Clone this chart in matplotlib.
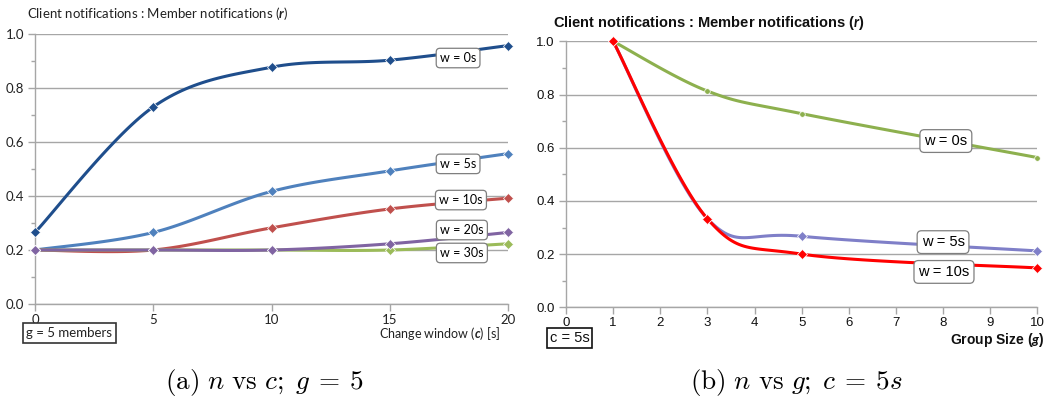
import numpy as np
import matplotlib
matplotlib.use("Agg")
import matplotlib.pyplot as plt
from matplotlib.ticker import MultipleLocator

plt.rcParams['mathtext.fontset'] = 'custom'
plt.rcParams['mathtext.rm'] = 'Lato'
plt.rcParams['mathtext.it'] = 'Lato:italic'
plt.rcParams['mathtext.bf'] = 'Lato:bold'
plt.rcParams['mathtext.bfit'] = 'Lato:bold:italic'

# panel (a): ratio vs change window, g = 5
change_window = [0, 5, 10, 15, 20]
a_labels = ['w = 0s', 'w = 5s', 'w = 10s', 'w = 20s', 'w = 30s']
a_w0 = [0.265, 0.730, 0.877, 0.903, 0.957]
a_w5 = [0.200, 0.265, 0.417, 0.493, 0.557]
a_w10 = [0.200, 0.200, 0.282, 0.352, 0.392]
a_w20 = [0.200, 0.200, 0.200, 0.223, 0.265]
a_w30 = [0.200, 0.200, 0.200, 0.200, 0.223]

# panel (b): ratio vs group size, c = 5s
group_size = [1, 3, 5, 10]
b_labels = ['w = 0s', 'w = 5s', 'w = 10s']
b_w0 = [1.000, 0.813, 0.728, 0.563]
b_w5 = [1.000, 0.333, 0.267, 0.212]
b_w10 = [1.000, 0.333, 0.200, 0.148]


def smooth(x, y, n=30):
    # Excel-style smoothed line: Catmull-Rom / cubic Bezier through the points
    p = np.column_stack([x, y]).astype(float)
    ext = np.vstack([p[0], p, p[-1]])
    out = []
    t = np.linspace(0, 1, n)[:, None]
    for i in range(len(p) - 1):
        p0, p1, p2, p3 = ext[i], ext[i + 1], ext[i + 2], ext[i + 3]
        c1 = p1 + (p2 - p0) / 6
        c2 = p2 - (p3 - p1) / 6
        seg = ((1 - t) ** 3) * p1 + 3 * ((1 - t) ** 2) * t * c1 + 3 * (1 - t) * t ** 2 * c2 + t ** 3 * p2
        out.append(seg if i == 0 else seg[1:])
    out = np.vstack(out)
    return out[:, 0], out[:, 1]


def style_axes(ax, font, color, size):
    ax.set_ylim(0, 1.0)
    ax.yaxis.set_major_locator(MultipleLocator(0.2))
    ax.yaxis.set_minor_locator(MultipleLocator(0.1))
    ax.yaxis.set_major_formatter(matplotlib.ticker.FormatStrFormatter('%.1f'))
    ax.grid(axis='y', color='#a6a6a6', lw=1.0)
    ax.set_axisbelow(True)
    for s in ['top', 'right']:
        ax.spines[s].set_visible(False)
    for s in ['left', 'bottom']:
        ax.spines[s].set_color('#a6a6a6')
        ax.spines[s].set_linewidth(1.0)
    ax.tick_params(axis='both', which='major', length=5, width=1, color='#a6a6a6',
                   labelsize=size, labelcolor=color, pad=3)
    ax.tick_params(axis='x', which='major', pad=2)
    ax.tick_params(axis='y', which='minor', length=3, width=1, color='#a6a6a6')
    ax.tick_params(axis='x', which='minor', length=0)
    for lab in ax.get_xticklabels() + ax.get_yticklabels():
        lab.set_fontfamily(font)


def box_label(ax, x, y, s, font, size):
    ax.text(x, y, s, ha='center', va='center', fontsize=size, family=font, zorder=10,
            bbox=dict(boxstyle='round,pad=0.3,rounding_size=0.3', fc='white', ec='#7f7f7f', lw=0.9))


fig = plt.figure(figsize=(10.58, 3.97), dpi=100)

# ---------- panel (a)
ax1 = fig.add_axes([35 / 1058, 1 - 304 / 397, (508 - 35) / 1058, 270 / 397])
a_series = [(a_w0, '#1F4E8C'), (a_w5, '#4F81BD'), (a_w10, '#C0504D'), (a_w30, '#9BBB59'), (a_w20, '#8064A2')]
for vals, col in a_series:
    xs, ys = smooth(change_window, vals)
    ax1.plot(xs, ys, color=col, lw=2.2, solid_capstyle='round', clip_on=False, zorder=3)
    ax1.plot(change_window, vals, ls='none', marker='D', ms=5, color=col, mec='white', mew=0.5,
             clip_on=False, zorder=4)
ax1.set_xlim(0, 20)
ax1.set_xticks(change_window)
style_axes(ax1, 'Lato', '#222222', 9.5)

a_pos = [(17.89, 0.911), (17.89, 0.519), (18.01, 0.385), (18.05, 0.274), (18.05, 0.189)]
for (x, y), s in zip(a_pos, a_labels):
    box_label(ax1, x, y, s, 'Lato', 9)

fig.text(27 / 1058, 1 - 14 / 397, r'Client notifications : Member notifications ($\mathbfit{r}$)',
         family='Lato', fontsize=9.5, color='#222222', ha='left', va='center')
fig.text(500 / 1058, 1 - 334 / 397, r'Change window ($\mathbfit{c}$) [s]',
         family='Lato', fontsize=9, color='#222222', ha='right', va='center')
fig.text(69.5 / 1058, 1 - 333 / 397, 'g = 5 members', family='Lato', fontsize=9.5, color='#222222',
         ha='center', va='center',
         bbox=dict(boxstyle='square,pad=0.3', fc='white', ec='#333333', lw=1.2))

# ---------- panel (b)
ax2 = fig.add_axes([566 / 1058, 1 - 307.3 / 397, (1037.3 - 566) / 1058, 266 / 397])
b_series = [(b_w0, '#8DB04E', 'o', 4), (b_w5, '#7F7FC8', 'D', 5), (b_w10, '#FF0000', 'D', 5)]
for vals, col, mk, ms in b_series:
    xs, ys = smooth(group_size, vals)
    ax2.plot(xs, ys, color=col, lw=2.2, solid_capstyle='round', clip_on=False, zorder=3)
    ax2.plot(group_size, vals, ls='none', marker=mk, ms=ms, color=col, mec='white', mew=0.5,
             clip_on=False, zorder=4)
ax2.set_xlim(0, 10)
ax2.set_xticks(range(0, 11))
style_axes(ax2, 'Liberation Sans', '#111111', 9.5)

b_pos = [(8.06, 0.625), (8.0, 0.245), (8.02, 0.133)]
for (x, y), s in zip(b_pos, b_labels):
    box_label(ax2, x, y, s, 'Liberation Sans', 10.5)

fig.text(553 / 1058, 1 - 23 / 397, r'Client notifications : Member notifications ($\mathbfit{r}$)',
         family='Liberation Sans', fontweight='bold', fontsize=10.5, color='#111111', ha='left', va='center')
fig.text(1045 / 1058, 1 - 340 / 397, r'Group Size ($\mathbfit{g}$)',
         family='Liberation Sans', fontweight='bold', fontsize=10, color='#111111', ha='right', va='center')
fig.text(569.5 / 1058, 1 - 338 / 397, 'c = 5s', family='Liberation Sans', fontsize=10.5, color='#111111',
         ha='center', va='center',
         bbox=dict(boxstyle='square,pad=0.2', fc='white', ec='#111111', lw=1.2))

# ---------- captions
fig.text(264 / 1058, 1 - 382 / 397, r'$\mathrm{(a)}\ n\ \mathrm{vs}\ c;\;g\:=\:5$', math_fontfamily='cm',
         fontsize=19.5, ha='center', va='center')
fig.text(796 / 1058, 1 - 382 / 397, r'$\mathrm{(b)}\ n\ \mathrm{vs}\ g;\;c\:=\:5s$', math_fontfamily='cm',
         fontsize=19.5, ha='center', va='center')

fig.savefig('out.png', dpi=100)
